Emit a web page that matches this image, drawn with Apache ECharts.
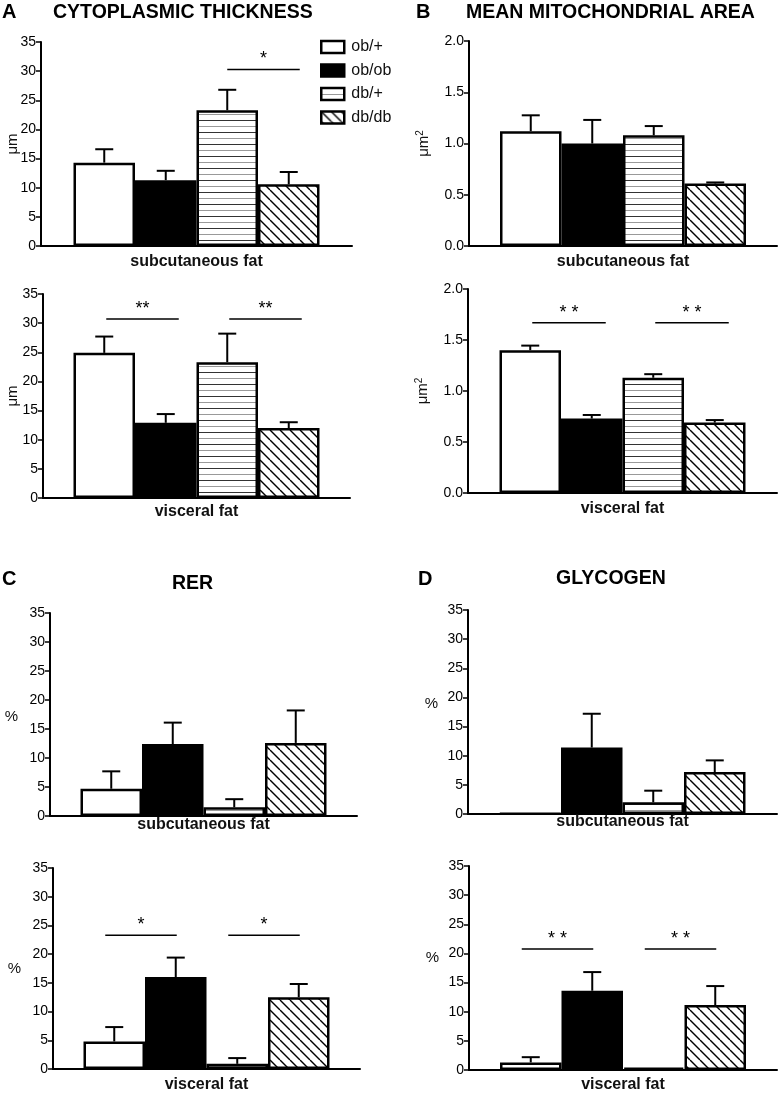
<!DOCTYPE html>
<html>
<head>
<meta charset="utf-8">
<script src="https://cdn.jsdelivr.net/npm/echarts@6/dist/echarts.min.js"></script>
<style>
html,body{margin:0;padding:0;background:#fff;}
#chart{width:779px;height:1093px;}
</style>
</head>
<body>
<div id="chart"></div>
<script>
// ---------- data ----------
const groups = ['ob/+', 'ob/ob', 'db/+', 'db/db'];

const cytoSubcMean = [14.3, 11.3, 23.3, 10.6];
const cytoSubcErr  = [2.3, 1.6, 3.5, 2.1];
const cytoViscMean = [24.9, 12.9, 23.3, 12.0];
const cytoViscErr  = [2.8, 1.5, 4.9, 1.0];

const mitoSubcMean = [1.12, 1.00, 1.08, 0.61];
const mitoSubcErr  = [0.155, 0.23, 0.09, 0.01];
const mitoViscMean = [1.40, 0.73, 1.13, 0.69];
const mitoViscErr  = [0.045, 0.035, 0.035, 0.025];

const rerSubcMean = [4.7, 12.4, 1.5, 12.6];
const rerSubcErr  = [3.0, 3.7, 1.4, 5.6];
const rerViscMean = [4.8, 16.0, 0.9, 12.5];
const rerViscErr  = [2.5, 3.4, 1.0, 2.3];

const glySubcMean = [0.1, 11.4, 2.0, 7.2];
const glySubcErr  = [0, 5.8, 2.0, 2.0];
const glyViscMean = [1.3, 13.6, 0.4, 11.15];
const glyViscErr  = [0.9, 3.2, 0, 3.25];

// significance: [groupA, groupB, stars, level]
const cytoSubcSig = [[2, 3, '*', 30.3]];
const cytoViscSig = [[0, 1, '**', 30.7], [2, 3, '**', 30.7]];
const mitoSubcSig = [];
const mitoViscSig = [[0, 1, '* *', 1.67], [2, 3, '* *', 1.67]];
const rerSubcSig = [];
const rerViscSig = [[0, 1, '*', 23.3], [2, 3, '*', 23.3]];
const glySubcSig = [];
const glyViscSig = [[0, 1, '* *', 20.75], [2, 3, '* *', 20.75]];

// ---------- style ----------
const FONT = '"Liberation Sans", Arial, Helvetica, sans-serif';
const BW = 61.5;   // bar width px
const CAP = 18;    // error cap width

function stripePattern() {
  const c = document.createElement('canvas');
  c.width = 8; c.height = 12;
  const g = c.getContext('2d');
  g.fillStyle = '#fff'; g.fillRect(0, 0, 8, 12);
  g.fillStyle = '#333'; g.fillRect(0, 0, 8, 1);
  g.fillStyle = '#999'; g.fillRect(0, 6, 8, 1);
  return c;
}
function hatchPattern() {
  const c = document.createElement('canvas');
  c.width = 10; c.height = 10;
  const g = c.getContext('2d');
  g.fillStyle = '#fff'; g.fillRect(0, 0, 10, 10);
  g.strokeStyle = '#000'; g.lineWidth = 1.4;
  for (let k = -1; k <= 1; k++) {
    g.beginPath(); g.moveTo(k * 10, 0); g.lineTo(k * 10 + 10, 10); g.stroke();
  }
  return c;
}
const fills = [
  '#ffffff',
  '#000000',
  { image: stripePattern(), repeat: 'repeat' },
  { image: hatchPattern(), repeat: 'repeat' }
];

const panels = [
  { grid: { left: 41, top: 42, width: 311, height: 204 }, max: 35, step: 5, dec: 0, name: 'μm', nameRot: 90, nameGap: 21,
    cat: 'subcutaneous fat', mean: cytoSubcMean, err: cytoSubcErr, sig: cytoSubcSig, sigOff: [0, 11], lblMargin: 8 },
  { grid: { left: 43, top: 294, width: 307, height: 204 }, max: 35, step: 5, dec: 0, name: 'μm', nameRot: 90, nameGap: 23,
    cat: 'visceral fat', mean: cytoViscMean, err: cytoViscErr, sig: cytoViscSig, sigOff: [2, 13], lblMargin: 6 },
  { grid: { left: 469, top: 41, width: 308, height: 205 }, max: 2, step: 0.5, dec: 1, name: 'μm{sup|2}', nameRot: 90, nameGap: 36,
    cat: 'subcutaneous fat', mean: mitoSubcMean, err: mitoSubcErr, sig: mitoSubcSig, sigOff: [2, 14], lblMargin: 8 },
  { grid: { left: 468, top: 289, width: 309, height: 204 }, max: 2, step: 0.5, dec: 1, name: 'μm{sup|2}', nameRot: 90, nameGap: 36,
    cat: 'visceral fat', mean: mitoViscMean, err: mitoViscErr, sig: mitoViscSig, sigOff: [2, 14], lblMargin: 8 },
  { grid: { left: 50, top: 613, width: 307, height: 203 }, max: 35, step: 5, dec: 0, name: '%', nameRot: 0, nameGap: 32,
    cat: 'subcutaneous fat', mean: rerSubcMean, err: rerSubcErr, sig: rerSubcSig, sigOff: [-9, 1], lblMargin: 1, namePad: [4, 0, 0, 0] },
  { grid: { left: 53, top: 868, width: 307, height: 203 }, max: 35, step: 5, dec: 0, name: '%', nameRot: 0, nameGap: 32,
    cat: 'visceral fat', mean: rerViscMean, err: rerViscErr, sig: rerViscSig, sigOff: [-9, 1], lblMargin: 8 },
  { grid: { left: 468, top: 610, width: 309, height: 204 }, max: 35, step: 5, dec: 0, name: '%', nameRot: 0, nameGap: 30,
    cat: 'subcutaneous fat', mean: glySubcMean, err: glySubcErr, sig: glySubcSig, sigOff: [-9, 1], lblMargin: 0, namePad: [0, 0, 16, 0] },
  { grid: { left: 469, top: 866, width: 308, height: 204 }, max: 35, step: 5, dec: 0, name: '%', nameRot: 0, nameGap: 30,
    cat: 'visceral fat', mean: glyViscMean, err: glyViscErr, sig: glyViscSig, sigOff: [-9, 1], lblMargin: 7, namePad: [0, 0, 20, 0] }
];

const grids = [], xAxes = [], yAxes = [], series = [];

panels.forEach((p, k) => {
  grids.push(Object.assign({ containLabel: false }, p.grid));
  xAxes.push({
    type: 'category', gridIndex: k, data: [p.cat],
    axisLine: { lineStyle: { color: '#000', width: 2 } },
    axisTick: { show: false },
    axisLabel: { margin: p.lblMargin, color: '#111', fontFamily: FONT, fontSize: 16, fontWeight: 'bold' }
  });
  yAxes.push({
    type: 'value', gridIndex: k, min: 0, max: p.max, interval: p.step,
    splitLine: { show: false },
    axisLine: { show: true, lineStyle: { color: '#000', width: 2 } },
    axisTick: { show: true, length: 5, lineStyle: { color: '#000', width: 1.5 } },
    axisLabel: { margin: 5, color: '#000', fontFamily: FONT, fontSize: 14,
      formatter: v => v.toFixed(p.dec) },
    name: p.name, nameLocation: 'middle', nameRotate: p.nameRot, nameGap: p.nameGap,
    nameMoveOverlap: false,
    nameTextStyle: { color: '#111', fontFamily: FONT, fontSize: 15, padding: p.namePad || 0,
      rich: { sup: { fontSize: 10, verticalAlign: 'top', fontFamily: FONT, color: '#111', padding: [0, 0, 8, 0] } } }
  });
  groups.forEach((g, i) => {
    series.push({
      type: 'bar', name: g, xAxisIndex: k, yAxisIndex: k,
      data: [p.mean[i]], barWidth: BW, barGap: '0%',
      itemStyle: { color: fills[i], borderColor: '#000', borderWidth: 2.5 },
      silent: true, animation: false, z: 2
    });
  });
  series.push({
    type: 'custom', xAxisIndex: k, yAxisIndex: k, silent: true, animation: false, z: 3,
    data: p.mean.map((m, i) => [0, m, p.err[i], i]),
    encode: { x: 0, y: 1 },
    renderItem: (params, api) => {
      const m = api.value(1), e = api.value(2), i = api.value(3);
      if (!(e > 0)) return null;
      const c = api.coord([0, m]);
      const t = api.coord([0, m + e]);
      const x = c[0] + (i - 1.5) * BW;
      return { type: 'group', children: [
        { type: 'line', shape: { x1: x, y1: c[1], x2: x, y2: t[1] }, style: { stroke: '#000', lineWidth: 2 } },
        { type: 'line', shape: { x1: x - CAP / 2, y1: t[1], x2: x + CAP / 2, y2: t[1] }, style: { stroke: '#000', lineWidth: 2 } }
      ] };
    }
  });
  if (p.sig.length) {
    series.push({
      type: 'custom', xAxisIndex: k, yAxisIndex: k, silent: true, animation: false, z: 3,
      data: p.sig.map(s => [0, s[3]]),
      encode: { x: 0, y: 1 },
      renderItem: (params, api) => {
        const s = p.sig[params.dataIndex];
        const c = api.coord([0, api.value(1)]);
        const xa = c[0] + (s[0] - 1.5) * BW + p.sigOff[0];
        const xb = c[0] + (s[1] - 1.5) * BW + p.sigOff[1];
        return { type: 'group', children: [
          { type: 'line', shape: { x1: xa, y1: c[1], x2: xb, y2: c[1] }, style: { stroke: '#000', lineWidth: 1.5 } },
          { type: 'text', style: { text: s[2], x: (xa + xb) / 2, y: c[1] - 1, align: 'center', verticalAlign: 'bottom',
              fontFamily: FONT, fontSize: 18, fill: '#000' } }
        ] };
      }
    });
  }
});

const titleStyle = { fontFamily: FONT, fontWeight: 'bold', color: '#000', fontSize: 19.5 };
const letterStyle = { fontFamily: FONT, fontWeight: 'bold', color: '#000', fontSize: 20 };

const option = {
  backgroundColor: '#fff',
  animation: false,
  title: [
    { text: 'A', left: 2, top: 2, padding: 0, textStyle: letterStyle },
    { text: 'CYTOPLASMIC THICKNESS', left: 53, top: 3, padding: 0, textStyle: titleStyle },
    { text: 'B', left: 416, top: 2, padding: 0, textStyle: letterStyle },
    { text: 'MEAN MITOCHONDRIAL AREA', left: 466, top: 3, padding: 0, textStyle: titleStyle },
    { text: 'C', left: 2, top: 569, padding: 0, textStyle: letterStyle },
    { text: 'RER', left: 172, top: 574, padding: 0, textStyle: titleStyle },
    { text: 'D', left: 418, top: 569, padding: 0, textStyle: letterStyle },
    { text: 'GLYCOGEN', left: 556, top: 569, padding: 0, textStyle: titleStyle }
  ],
  legend: {
    data: groups.map(g => ({ name: g, icon: 'rect' })),
    orient: 'vertical', left: 320, top: 39, padding: 0,
    itemWidth: 23, itemHeight: 12, itemGap: 7.5, selectedMode: false,
    itemStyle: { borderColor: '#000', borderWidth: 2.5 },
    textStyle: { fontFamily: FONT, fontSize: 16, color: '#111', padding: [0, 0, 0, 2] }
  },
  grid: grids, xAxis: xAxes, yAxis: yAxes, series: series
};

const chart = echarts.init(document.getElementById('chart'), null, { renderer: 'canvas' });
chart.setOption(option);
</script>
</body>
</html>
